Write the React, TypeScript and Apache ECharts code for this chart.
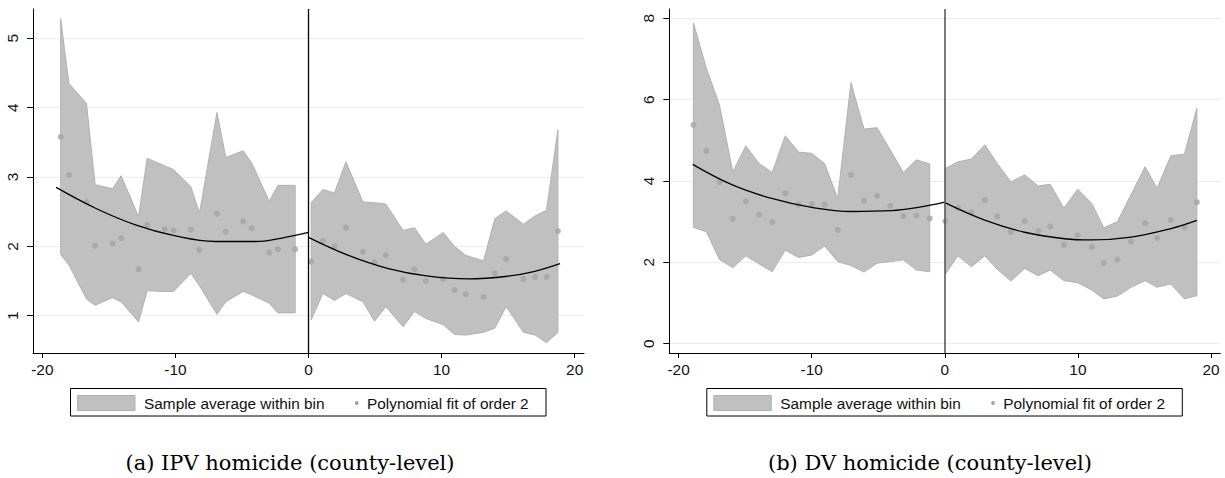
import React, { useEffect, useRef } from "react";
import * as echarts from "echarts";

// ---------- tick values ----------
const xTicks = [-20, -10, 0, 10, 20];
const ipvYTicks = [1, 2, 3, 4, 5];
const dvYTicks = [0, 2, 4, 6, 8];

// ---------- (a) IPV homicide ----------
const ipvLeftX = [-18.62, -18.0, -16.68, -16.03, -14.73, -14.08, -12.77, -12.12, -10.8, -10.15, -8.84, -8.19, -6.88, -6.21, -4.91, -4.26, -2.95, -2.3, -1.0];
const ipvLeftAvg = [3.58, 3.03, 2.64, 2.01, 2.04, 2.12, 1.67, 2.31, 2.25, 2.23, 2.24, 1.95, 2.47, 2.21, 2.36, 2.26, 1.91, 1.96, 1.96];
const ipvLeftHi = [5.28, 4.35, 4.06, 2.89, 2.83, 3.02, 2.43, 3.27, 3.16, 3.11, 2.86, 2.48, 3.93, 3.28, 3.38, 3.2, 2.65, 2.88, 2.88];
const ipvLeftLo = [1.88, 1.73, 1.24, 1.15, 1.26, 1.2, 0.91, 1.36, 1.35, 1.35, 1.61, 1.43, 1.02, 1.2, 1.35, 1.3, 1.18, 1.04, 1.04];

const ipvRightX = [0.2, 1.08, 1.95, 2.81, 4.09, 4.96, 5.81, 7.11, 7.96, 8.82, 10.12, 10.97, 11.82, 13.15, 14.0, 14.85, 16.15, 17.03, 17.88, 18.74];
const ipvRightAvg = [1.78, 2.08, 2.0, 2.27, 1.92, 1.77, 1.87, 1.52, 1.67, 1.5, 1.53, 1.37, 1.31, 1.27, 1.61, 1.82, 1.53, 1.56, 1.56, 2.22];
const ipvRightHi = [2.63, 2.82, 2.77, 3.22, 2.64, 2.63, 2.61, 2.23, 2.27, 2.03, 2.2, 2.0, 1.87, 1.79, 2.4, 2.51, 2.32, 2.44, 2.52, 3.68];
const ipvRightLo = [0.94, 1.32, 1.22, 1.32, 1.2, 0.92, 1.13, 0.84, 1.06, 0.96, 0.87, 0.73, 0.72, 0.76, 0.82, 1.13, 0.76, 0.72, 0.61, 0.76];

const ipvFitLeft = [[-18.96, 2.85], [-16, 2.55], [-13, 2.31], [-10, 2.15], [-7, 2.07], [-4, 2.07], [-2, 2.12], [0, 2.2]];
const ipvFitRight = [[0, 2.13], [3, 1.87], [6, 1.68], [9, 1.57], [12, 1.53], [15, 1.57], [17, 1.64], [18.9, 1.75]];

// ---------- (b) DV homicide ----------
const dvLeftX = [-18.89, -17.91, -16.93, -15.93, -14.95, -13.95, -12.97, -11.99, -10.99, -10.0, -9.03, -8.05, -7.05, -6.07, -5.09, -4.09, -3.11, -2.13, -1.13];
const dvLeftAvg = [5.38, 4.74, 3.97, 3.07, 3.5, 3.17, 2.99, 3.7, 3.42, 3.43, 3.42, 2.8, 4.15, 3.51, 3.64, 3.39, 3.14, 3.15, 3.08];
const dvLeftHi = [7.89, 6.77, 5.87, 4.23, 4.86, 4.43, 4.21, 5.11, 4.71, 4.68, 4.43, 3.57, 6.42, 5.28, 5.31, 4.76, 4.21, 4.52, 4.42];
const dvLeftLo = [2.86, 2.75, 2.07, 1.87, 2.16, 1.96, 1.77, 2.3, 2.12, 2.18, 2.4, 2.02, 1.92, 1.76, 1.98, 2.02, 2.06, 1.81, 1.77];

const dvRightX = [0.05, 0.98, 2.0, 3.01, 3.94, 4.97, 6.0, 7.02, 7.92, 8.95, 9.98, 11.04, 11.94, 12.97, 14.0, 15.05, 15.95, 16.98, 18.0, 18.94];
const dvRightAvg = [3.01, 3.34, 3.23, 3.53, 3.13, 2.75, 3.01, 2.77, 2.88, 2.43, 2.66, 2.38, 1.98, 2.07, 2.51, 2.96, 2.6, 3.04, 2.86, 3.48];
const dvRightHi = [4.31, 4.47, 4.54, 4.89, 4.43, 3.98, 4.15, 3.88, 3.92, 3.33, 3.8, 3.45, 2.85, 3.0, 3.67, 4.35, 3.82, 4.62, 4.66, 5.79];
const dvRightLo = [1.71, 2.16, 1.89, 2.16, 1.83, 1.54, 1.85, 1.67, 1.81, 1.55, 1.5, 1.32, 1.1, 1.17, 1.39, 1.55, 1.39, 1.47, 1.1, 1.18];

const dvFitLeft = [[-18.94, 4.41], [-16, 3.91], [-13, 3.57], [-10, 3.35], [-7, 3.25], [-4, 3.27], [-2, 3.35], [0, 3.48]];
const dvFitRight = [[0, 3.47], [3, 3.04], [6, 2.74], [9, 2.58], [11, 2.55], [14, 2.62], [17, 2.83], [18.94, 3.03]];

// ---------- texts ----------
const legendLabels = ["Sample average within bin", "Polynomial fit of order 2"];
const captions = ["(a) IPV homicide (county-level)", "(b) DV homicide (county-level)"];

const SANS = "'Liberation Sans', Arial, Helvetica, sans-serif";
const SERIF = "'DejaVu Serif', serif";
const BAND_FILL = "#c0c0c0";
const BAND_STROKE = "#b2b2b2";
const DOT = "#a4a4a4";

type Seg = { x: number[]; avg: number[]; hi: number[]; lo: number[] };

const panels = [
  {
    segs: [
      { x: ipvLeftX, avg: ipvLeftAvg, hi: ipvLeftHi, lo: ipvLeftLo },
      { x: ipvRightX, avg: ipvRightAvg, hi: ipvRightHi, lo: ipvRightLo },
    ] as Seg[],
    fits: [ipvFitLeft, ipvFitRight],
    yMin: 0.462,
    yMax: 5.423,
    yTicks: ipvYTicks,
    left: 33,
    cutColor: "#000000",
    cutWidth: 1.3,
    caption: captions[0],
    captionX: 290,
  },
  {
    segs: [
      { x: dvLeftX, avg: dvLeftAvg, hi: dvLeftHi, lo: dvLeftLo },
      { x: dvRightX, avg: dvRightAvg, hi: dvRightHi, lo: dvRightLo },
    ] as Seg[],
    fits: [dvFitLeft, dvFitRight],
    yMin: -0.229,
    yMax: 8.229,
    yTicks: dvYTicks,
    left: 669.3,
    cutColor: "#5a5a5a",
    cutWidth: 1.6,
    caption: captions[1],
    captionX: 930,
  },
];

function buildOption() {
  const grid: any[] = [];
  const xAxis: any[] = [];
  const yAxis: any[] = [];
  const series: any[] = [];
  const graphic: any[] = [];

  panels.forEach((p, g) => {
    grid.push({ left: p.left, top: 9, width: 551, height: 344, containLabel: false });
    xAxis.push({
      type: "value",
      gridIndex: g,
      min: -20.7,
      max: 20.7,
      axisLine: { show: true, onZero: false, lineStyle: { color: "#000", width: 1 } },
      axisTick: { show: true, length: 5, customValues: xTicks, lineStyle: { color: "#000" } },
      axisLabel: { customValues: xTicks, margin: 9, fontSize: 15.4, color: "#111", fontFamily: SANS },
      splitLine: { show: false },
    });
    yAxis.push({
      type: "value",
      gridIndex: g,
      min: p.yMin,
      max: p.yMax,
      axisLine: { show: true, onZero: false, lineStyle: { color: "#000", width: 1 } },
      axisTick: { show: true, length: 6, customValues: p.yTicks, lineStyle: { color: "#000" } },
      axisLabel: { customValues: p.yTicks, rotate: 90, margin: 13, fontSize: 15.4, color: "#111", fontFamily: SANS },
      splitLine: { show: true, lineStyle: { color: "#e6eff0", width: 1 } },
    });

    const segs = p.segs;
    series.push({
      type: "custom",
      xAxisIndex: g,
      yAxisIndex: g,
      z: 1,
      silent: true,
      data: segs.map((s) => [s.x[0], s.lo[0]]),
      renderItem: (params: any, api: any) => {
        const s = segs[params.dataIndex];
        const pts: number[][] = [];
        s.x.forEach((x, i) => pts.push(api.coord([x, s.hi[i]])));
        for (let i = s.x.length - 1; i >= 0; i--) pts.push(api.coord([s.x[i], s.lo[i]]));
        return {
          type: "polygon",
          shape: { points: pts },
          style: { fill: BAND_FILL, stroke: BAND_STROKE, lineWidth: 1 },
        };
      },
    });

    const dots: number[][] = [];
    segs.forEach((s) => s.x.forEach((x, i) => dots.push([x, s.avg[i]])));
    series.push({
      type: "scatter",
      xAxisIndex: g,
      yAxisIndex: g,
      z: 2,
      symbol: "circle",
      symbolSize: 6,
      itemStyle: { color: DOT },
      silent: true,
      data: dots,
    });

    p.fits.forEach((fit, k) => {
      series.push({
        type: "line",
        xAxisIndex: g,
        yAxisIndex: g,
        z: 3,
        smooth: 0.4,
        showSymbol: false,
        symbol: "none",
        silent: true,
        lineStyle: { color: "#000", width: 1.3 },
        data: fit,
        markLine:
          k === 0
            ? {
                silent: true,
                symbol: ["none", "none"],
                label: { show: false },
                lineStyle: { color: p.cutColor, width: p.cutWidth, type: "solid" },
                data: [{ xAxis: 0 }],
              }
            : undefined,
      });
    });

    // legend (drawn as graphic)
    const off = g === 0 ? 0 : 636.3;
    graphic.push(
      {
        type: "rect",
        shape: { x: 70.5 + off, y: 388.5, width: 475.5, height: 27.5 },
        style: { fill: "#fff", stroke: "#000", lineWidth: 1 },
      },
      {
        type: "rect",
        shape: { x: 77.5 + off, y: 395.5, width: 57.5, height: 15 },
        style: { fill: BAND_FILL, stroke: BAND_STROKE, lineWidth: 1 },
      },
      {
        type: "text",
        x: 144 + off,
        y: 403,
        style: { text: legendLabels[0], fontSize: 15.4, fontFamily: SANS, fill: "#111", verticalAlign: "middle" },
      },
      {
        type: "circle",
        shape: { cx: 356.7 + off, cy: 403, r: 1.9 },
        style: { fill: DOT },
      },
      {
        type: "text",
        x: 367 + off,
        y: 403,
        style: { text: legendLabels[1], fontSize: 15.4, fontFamily: SANS, fill: "#111", verticalAlign: "middle" },
      },
      {
        type: "text",
        x: p.captionX,
        y: 463,
        style: { text: p.caption, fontSize: 21, fontFamily: SERIF, fill: "#000", align: "center", verticalAlign: "middle" },
      }
    );
  });

  return {
    animation: false,
    backgroundColor: "#ffffff",
    grid,
    xAxis,
    yAxis,
    series,
    graphic,
  };
}

export default function App() {
  const ref = useRef<HTMLDivElement>(null);
  useEffect(() => {
    if (!ref.current) return;
    const chart = echarts.init(ref.current, undefined, { renderer: "svg" });
    chart.setOption(buildOption() as any);
    return () => chart.dispose();
  }, []);
  return (
    <div
      ref={ref}
      style={{ position: "fixed", left: 0, top: 0, width: 1225, height: 478, background: "#fff" }}
    />
  );
}
